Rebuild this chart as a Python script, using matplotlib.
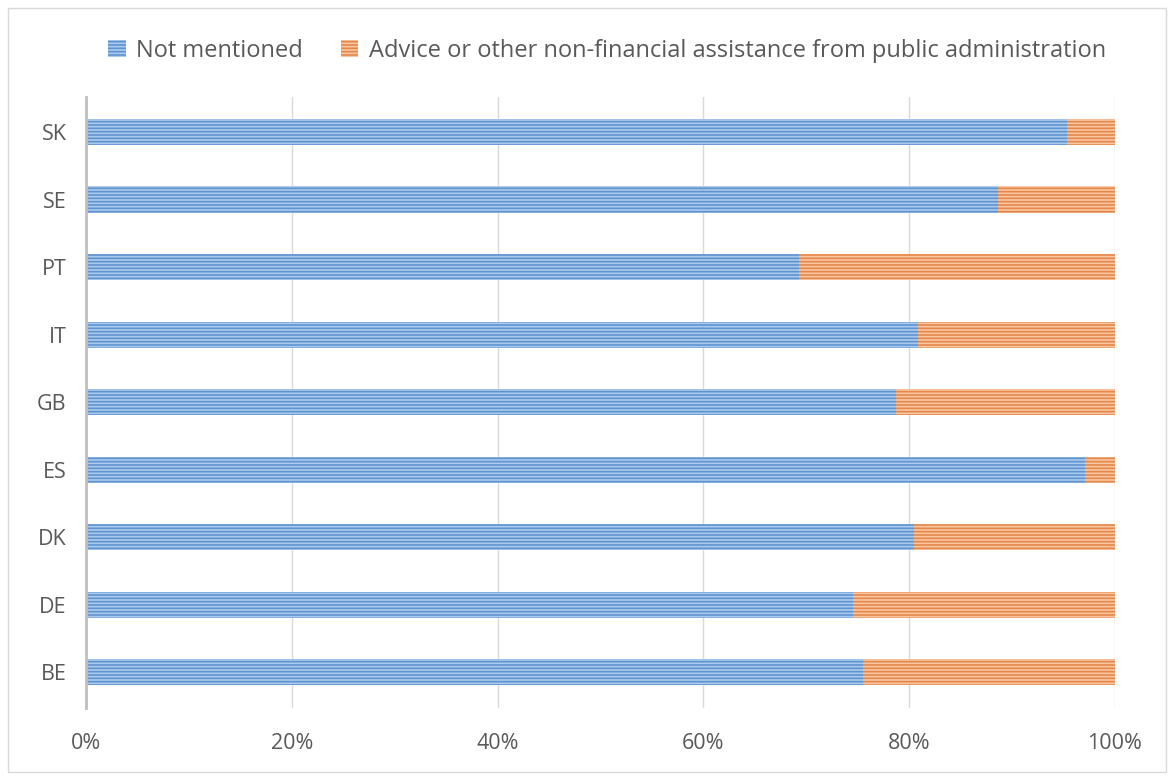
import matplotlib.pyplot as plt
from matplotlib.patches import Rectangle
from matplotlib.ticker import PercentFormatter

countries = ["BE", "DE", "DK", "ES", "GB", "IT", "PT", "SE", "SK"]
not_mentioned = [75.5, 74.5, 80.5, 97.1, 78.7, 80.9, 69.3, 88.6, 95.3]
advice = [100 - v for v in not_mentioned]

plt.rcParams['font.family'] = ['Open Sans', 'DejaVu Sans']
plt.rcParams['hatch.linewidth'] = 1.2

fig = plt.figure(figsize=(11.74, 7.80), dpi=100)
ax = fig.add_axes([0.0733, 0.0923, 0.8764, 0.7833])

# chart frame
fig.patches.append(Rectangle((0.007, 0.01), 0.986, 0.98, transform=fig.transFigure,
                             fill=False, edgecolor="#d9d9d9", linewidth=1))

pos = range(len(countries))
ax.barh(pos, not_mentioned, height=0.39, color="#abcbee", edgecolor="#5f93d0",
        hatch="-----", linewidth=0, label="Not mentioned", zorder=3)
ax.barh(pos, advice, left=not_mentioned, height=0.39, color="#f8c7a1", edgecolor="#e5874a",
        hatch="-----", linewidth=0,
        label="Advice or other non-financial assistance from public administration", zorder=3)

ax.set_xlim(0, 100)
ax.set_ylim(-0.53, 8.52)
ax.set_yticks(list(pos))
ax.set_yticklabels(countries)
ax.set_xticks([0, 20, 40, 60, 80, 100])
ax.xaxis.set_major_formatter(PercentFormatter(decimals=0))
ax.tick_params(length=0, labelsize=15.5, colors="#595959")
ax.tick_params(axis="y", pad=14)
ax.tick_params(axis="x", pad=18)

ax.grid(axis="x", color="#d9d9d9", linewidth=1, zorder=0)
for s in ["top", "right", "bottom"]:
    ax.spines[s].set_visible(False)
ax.spines["left"].set_color("#bfbfbf")
ax.spines["left"].set_linewidth(2)
ax.spines["left"].set_zorder(4)

fig.legend(loc="center", bbox_to_anchor=(0.517, 0.935), ncol=2, frameon=False,
           fontsize=17, labelcolor="#595959", handlelength=0.75, handleheight=0.75,
           handletextpad=0.45, columnspacing=1.6)

fig.savefig("out.png", dpi=100)
